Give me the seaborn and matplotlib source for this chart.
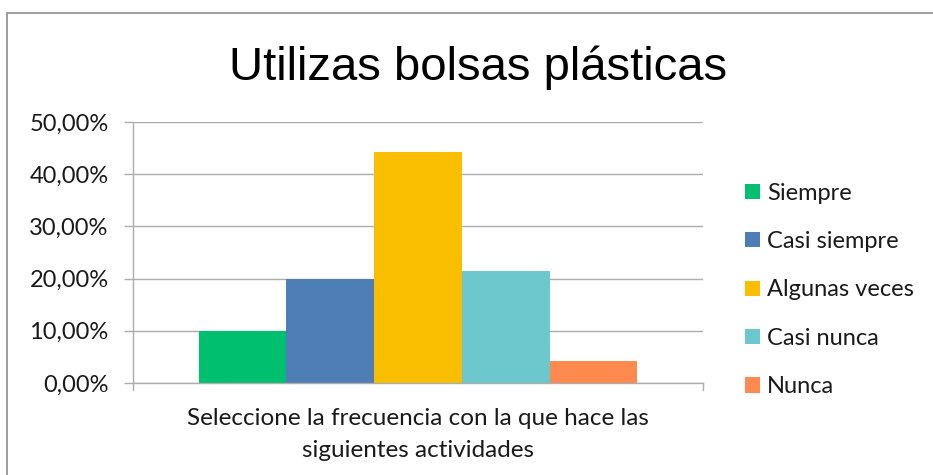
import matplotlib
matplotlib.use("Agg")
import matplotlib.pyplot as plt
import seaborn as sns
import pandas as pd
from matplotlib.patches import Rectangle, Patch

title = "Utilizas bolsas plásticas"
category = ["Seleccione la frecuencia con la que hace las\nsiguientes actividades"]
series = ["Siempre", "Casi siempre", "Algunas veces", "Casi nunca", "Nunca"]
values = [10.00, 20.00, 44.29, 21.43, 4.29]
colors = ["#00BF6F", "#4F7DB5", "#F9BE00", "#6CC8CC", "#FF8A50"]
yticks = [0, 10, 20, 30, 40, 50]

df = pd.DataFrame({"cat": category * len(series), "serie": series, "val": values})

sns.set_theme(style="white")
plt.rcParams["font.family"] = ["Lato", "DejaVu Sans"]

FS = 17
fig = plt.figure(figsize=(9.33, 4.75), dpi=100)
ax = fig.add_axes([133/933, 1-383/475, (703-133)/933, (383-122)/475])

sns.barplot(data=df, x="cat", y="val", hue="serie", hue_order=series,
            palette=colors, width=0.77, gap=0, ax=ax, legend=False,
            saturation=1, linewidth=0)

ax.set_xlim(-0.5, 0.5)
ax.set_ylim(0, 50)
ax.set_yticks(yticks)
ax.set_yticklabels([f"{v:.2f}".replace(".", ",") + "%" for v in yticks], fontsize=FS, color="#1a1a1a")
ax.set_xticks([0])
ax.set_xticklabels(category, fontsize=17.5, color="#1a1a1a", linespacing=1.62)
ax.set_xlabel("")
ax.set_ylabel("")
grid_c = "#ADADAD"
ax.yaxis.grid(True, color=grid_c, linewidth=1)
ax.set_axisbelow(True)
for s in ["top", "right"]:
    ax.spines[s].set_visible(False)
for s in ["left", "bottom"]:
    ax.spines[s].set_color(grid_c)
    ax.spines[s].set_linewidth(1)
ax.tick_params(axis="y", length=6.5, color=grid_c, width=1, pad=11, left=True)
ax.tick_params(axis="x", length=0, pad=18)
# boundary ticks on x axis
ax.plot([-0.5, -0.5], [0, -1.3], color=grid_c, lw=1, clip_on=False)
ax.plot([0.5, 0.5], [0, -1.3], color=grid_c, lw=1, clip_on=False)

fig.text(478/933, 1-80/475, title, ha="center", va="baseline", fontsize=34,
         family=["Liberation Sans", "DejaVu Sans"], color="black")

handles = [Patch(facecolor=c, edgecolor="none") for c in colors]
leg = fig.legend(handles, series, loc="center left", bbox_to_anchor=(745/933, 1-290/475),
                 frameon=False, fontsize=FS, handlelength=0.62, handleheight=0.62,
                 handletextpad=0.3, labelspacing=1.16, borderaxespad=0, borderpad=0)
for t in leg.get_texts():
    t.set_color("#1a1a1a")

fig.patches.append(Rectangle((7/933, -0.1), 1.0, 1-13/475+0.1, transform=fig.transFigure,
                             fill=False, edgecolor="#8c8c8c", linewidth=1.2))

fig.savefig("out.png", dpi=100)
